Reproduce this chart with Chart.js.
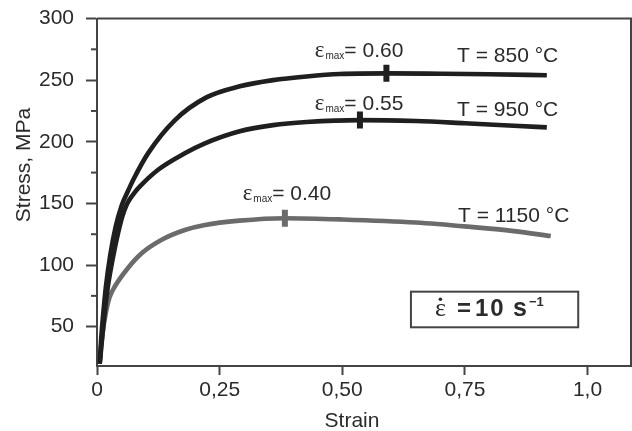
<!DOCTYPE html>
<html><head><meta charset="utf-8">
<script src="https://cdn.jsdelivr.net/npm/chart.js@4.4.0/dist/chart.umd.min.js"></script>
<style>html,body{margin:0;padding:0;background:#fff;overflow:hidden}canvas{display:block}</style>
</head><body>
<canvas id="c" width="632" height="431"></canvas>
<script>
// ---- data ----
const strain850 = [0.0055, 0.0085, 0.0115, 0.018, 0.027, 0.038, 0.050, 0.062, 0.075, 0.104, 0.159, 0.223, 0.291, 0.359, 0.427, 0.495, 0.59, 0.70, 0.80, 0.917];
const stress850 = [20, 40, 55, 82, 108, 131, 148, 159, 170, 190.6, 217.6, 236, 245, 250, 253, 255, 255.5, 255.2, 254.8, 254];
const strain950 = [0.0055, 0.0080, 0.014, 0.022, 0.032, 0.043, 0.052, 0.060, 0.067, 0.077, 0.087, 0.124, 0.179, 0.220, 0.291, 0.359, 0.427, 0.536, 0.65, 0.75, 0.85, 0.917];
const stress950 = [20, 30, 55, 82, 105, 126, 140, 148.5, 153.5, 159, 163.6, 177.1, 190.6, 198.7, 208.5, 213.5, 216, 217.6, 216.8, 215, 213, 211.7];
const strain1150 = [0.0055, 0.0085, 0.014, 0.021, 0.026, 0.036, 0.060, 0.091, 0.131, 0.179, 0.220, 0.29, 0.383, 0.50, 0.65, 0.76, 0.85, 0.925];
const stress1150 = [20, 35, 52, 67, 74.3, 82.4, 96, 109.5, 120.3, 128.4, 132.5, 136, 138, 137, 134.5, 131, 127.5, 123.5];
const peakStrain = [0.59, 0.536, 0.383];
const peakStress = [255.5, 217.6, 138];
const peakLabels = ['0.60', '0.55', '0.40'];
const tempLabels = ['T = 850 °C', 'T = 950 °C', 'T = 1150 °C'];
const xTickValues = [0, 0.25, 0.5, 0.75, 1.0];
const xTickLabels = ['0', '0,25', '0,50', '0,75', '1,0'];
const yTickValues = [50, 100, 150, 200, 250, 300];
const yMinorTicks = [75, 125, 175, 225, 275];
const xTitle = 'Strain';
const yTitle = 'Stress, MPa';
const rateParts = ['ε', '=', '10', 's', '−1'];

// ---- styling / placement (value coordinates) ----
const dark = '#1f1f1f', gray = '#6b6b6b', txt = '#2b2b2b';
const emaxPos = [[0.444, 269], [0.444, 225.8], [0.297, 152.8]];
const tempPos = [[0.734, 265], [0.734, 220.9], [0.736, 134.9]];
const boxPos = {x0: 0.640, x1: 0.981, y0: 78.4, y1: 49.5};

function pts(xs, ys) { return xs.map((x, i) => ({x: x, y: ys[i]})); }

const annot = {
  id: 'annot',
  afterDraw(chart) {
    const ctx = chart.ctx, xs = chart.scales.x, ys = chart.scales.y, a = chart.chartArea;
    ctx.save();
    // top & right frame
    ctx.strokeStyle = '#444'; ctx.lineWidth = 2;
    ctx.beginPath();
    ctx.moveTo(a.left, a.top); ctx.lineTo(a.right, a.top); ctx.lineTo(a.right, a.bottom);
    ctx.stroke();
    // minor y ticks
    yMinorTicks.forEach(v => {
      const y = ys.getPixelForValue(v);
      ctx.beginPath(); ctx.moveTo(a.left - 6, y); ctx.lineTo(a.left, y); ctx.stroke();
    });
    ctx.fillStyle = txt;
    ctx.textBaseline = 'alphabetic';
    ctx.textAlign = 'left';
    // emax labels
    emaxPos.forEach((p, i) => {
      let x = xs.getPixelForValue(p[0]); const y = ys.getPixelForValue(p[1]);
      ctx.font = '23px "Liberation Serif"';
      ctx.fillText('ε', x, y);
      x += ctx.measureText('ε').width + 1;
      ctx.font = '10px "Liberation Sans"';
      ctx.fillText('max', x, y + 2);
      x += ctx.measureText('max').width;
      ctx.font = '21px "Liberation Sans"';
      ctx.fillText('= ' + peakLabels[i], x, y);
    });
    // temperature labels
    ctx.font = '21px "Liberation Sans"';
    tempPos.forEach((p, i) => {
      ctx.fillText(tempLabels[i], xs.getPixelForValue(p[0]), ys.getPixelForValue(p[1]));
    });
    // strain-rate box
    const bx0 = xs.getPixelForValue(boxPos.x0), bx1 = xs.getPixelForValue(boxPos.x1);
    const by0 = ys.getPixelForValue(boxPos.y0), by1 = ys.getPixelForValue(boxPos.y1);
    ctx.strokeStyle = '#444'; ctx.lineWidth = 2;
    ctx.strokeRect(bx0, by0, bx1 - bx0, by1 - by0);
    const base = by1 - 11;
    ctx.font = '26px "Liberation Serif"';
    ctx.fillText(rateParts[0], bx0 + 24, base);
    const we = ctx.measureText(rateParts[0]).width;
    ctx.beginPath(); ctx.arc(bx0 + 24 + we / 2, base - 17, 1.8, 0, Math.PI * 2); ctx.fill();
    ctx.font = 'bold 24px "Liberation Sans"';
    ctx.fillText(rateParts[1], bx0 + 46, base);
    ctx.letterSpacing = '2px';
    ctx.fillText(rateParts[2], bx0 + 64, base);
    ctx.letterSpacing = '0px';
    ctx.font = 'bold 25px "Liberation Sans"';
    ctx.fillText(rateParts[3], bx0 + 102, base);
    ctx.font = 'bold 13px "Liberation Sans"';
    ctx.fillText(rateParts[4], bx0 + 118, base - 10);
    // axis titles
    ctx.font = '21px "Liberation Sans"';
    ctx.textAlign = 'center';
    ctx.fillText(xTitle, 352, 427);
    ctx.translate(30, 165);
    ctx.rotate(-Math.PI / 2);
    ctx.fillText(yTitle, 0, 0);
    ctx.restore();
  }
};

const lineDs = (data, color) => ({
  data: data, showLine: true, borderColor: color, borderWidth: 4.6,
  pointRadius: 0, fill: false, cubicInterpolationMode: 'monotone', borderCapStyle: 'butt'
});

new Chart(document.getElementById('c'), {
  type: 'scatter',
  data: {
    datasets: [
      lineDs(pts(strain850, stress850), dark),
      lineDs(pts(strain950, stress950), dark),
      lineDs(pts(strain1150, stress1150), gray),
      {
        data: pts(peakStrain, peakStress), showLine: false, order: -1,
        pointStyle: 'line', rotation: 90, pointRadius: 8.5, pointBorderWidth: 6,
        pointBorderColor: [dark, dark, gray], pointBackgroundColor: [dark, dark, gray]
      }
    ]
  },
  options: {
    responsive: false, animation: false, devicePixelRatio: 1,
    layout: {autoPadding: false, padding: {top: 18.5, right: 1, left: 0, bottom: 0}},
    plugins: {legend: {display: false}, tooltip: {enabled: false}},
    scales: {
      x: {
        type: 'linear', min: 0, max: 1.0886,
        afterBuildTicks: s => { s.ticks = xTickValues.map(v => ({value: v})); },
        afterFit: s => { s.height = 65; s.paddingLeft = 0; s.paddingRight = 0; },
        ticks: {
          callback: (v) => { const i = xTickValues.indexOf(v); return i >= 0 ? xTickLabels[i] : ''; },
          font: {family: 'Liberation Sans', size: 21}, color: txt, padding: 3, maxRotation: 0, autoSkip: false
        },
        grid: {drawOnChartArea: false, drawTicks: true, tickLength: 9, tickWidth: 2, tickColor: '#444'},
        border: {display: true, color: '#444', width: 2}
      },
      y: {
        type: 'linear', min: 18.1, max: 300,
        afterBuildTicks: s => { s.ticks = yTickValues.map(v => ({value: v})); },
        afterFit: s => { s.width = 97; s.paddingTop = 0; s.paddingBottom = 0; },
        ticks: {
          font: {family: 'Liberation Sans', size: 21}, color: txt, padding: 12, autoSkip: false
        },
        grid: {drawOnChartArea: false, drawTicks: true, tickLength: 11, tickWidth: 2, tickColor: '#444'},
        border: {display: true, color: '#444', width: 2}
      }
    }
  },
  plugins: [annot]
});
</script>
</body></html>
